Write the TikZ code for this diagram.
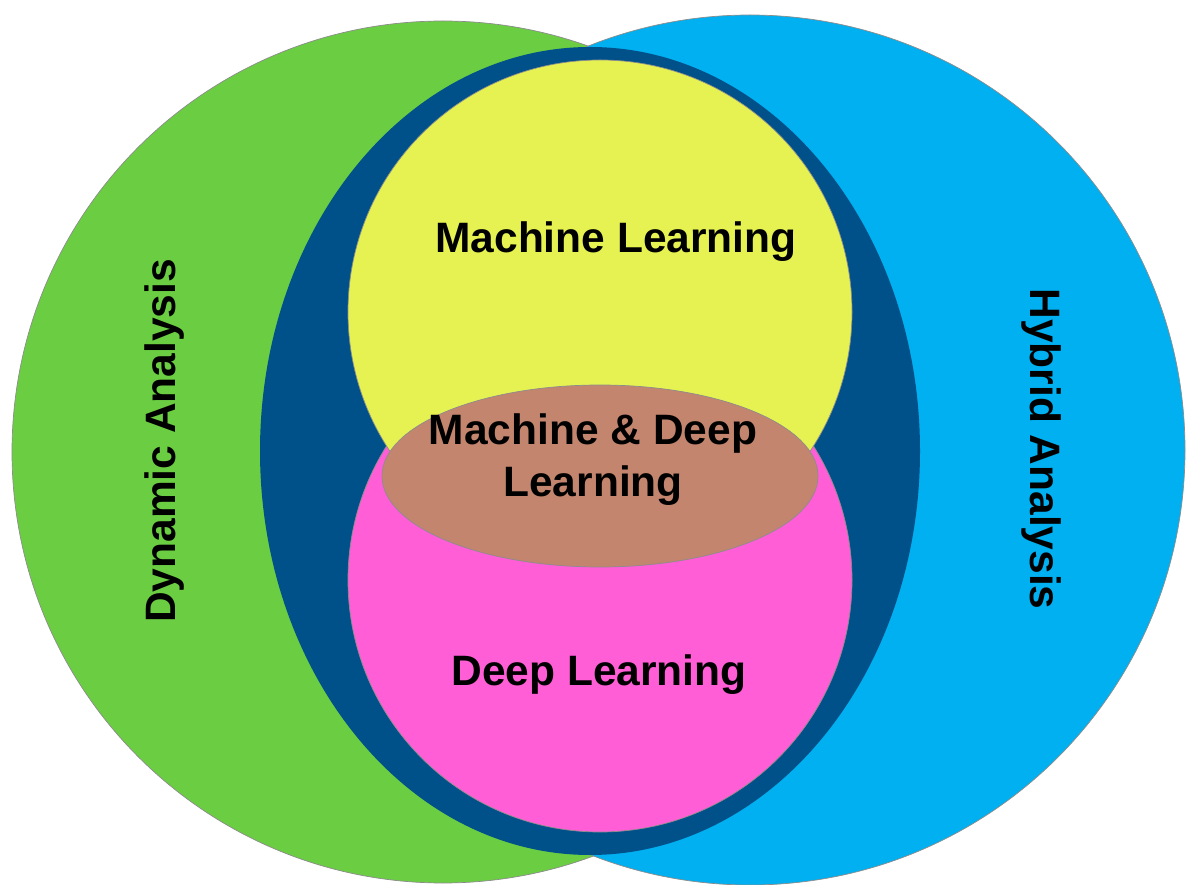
\documentclass[tikz,border=0pt]{standalone}
\usepackage{fontspec}
\setmainfont{Liberation Sans}
\definecolor{dyngreen}{RGB}{107,205,66}
\definecolor{hybblue}{RGB}{0,176,240}
\definecolor{inkblue}{RGB}{0,80,138}
\definecolor{mlyellow}{RGB}{230,242,82}
\definecolor{dlpink}{RGB}{255,94,215}
\definecolor{mdbrown}{RGB}{196,133,110}
\begin{document}
\begin{tikzpicture}[x=1pt, y=1pt, line join=round, line cap=round,
    area/.style={draw=black!45, line width=0.7pt},
    lbl/.style={font=\bfseries\fontsize{42.5}{52}\selectfont, inner sep=0pt, align=center}]
            \useasboundingbox (0,0) rectangle (1188,884);
            % outer sets
            \draw[area, fill=dyngreen] (443,432) coordinate (dyn) circle (431);
            \draw[area, fill=hybblue] (750,434) coordinate (hyb) circle (435);
            \fill[inkblue] (590,433) coordinate (core) ellipse [x radius=330, y radius=404];
            % inner sets
            \draw[area, fill=dlpink] (600,304) coordinate (dl) circle (252);
            \draw[area, fill=mlyellow] (600,572) coordinate (ml) circle (252);
            \draw[area, fill=mdbrown] (600,408) coordinate (mdl) ellipse [x radius=218, y radius=91];
            % labels
            \node[lbl, anchor=base, rotate=90] (dynlbl) at (175,443) {Dynamic Analysis};
            \node[lbl, anchor=base, rotate=-90] (hyblbl) at (1030,435) {Hybrid Analysis};
            \node[lbl, anchor=base] (mllbl) at (616,631) {Machine Learning};
            \node[lbl] (mdllbl) at (593,424) {Machine \& Deep\\Learning};
            \node[lbl, anchor=base] (dllbl) at (599,199) {Deep Learning};
    \end{tikzpicture}
\end{document}
